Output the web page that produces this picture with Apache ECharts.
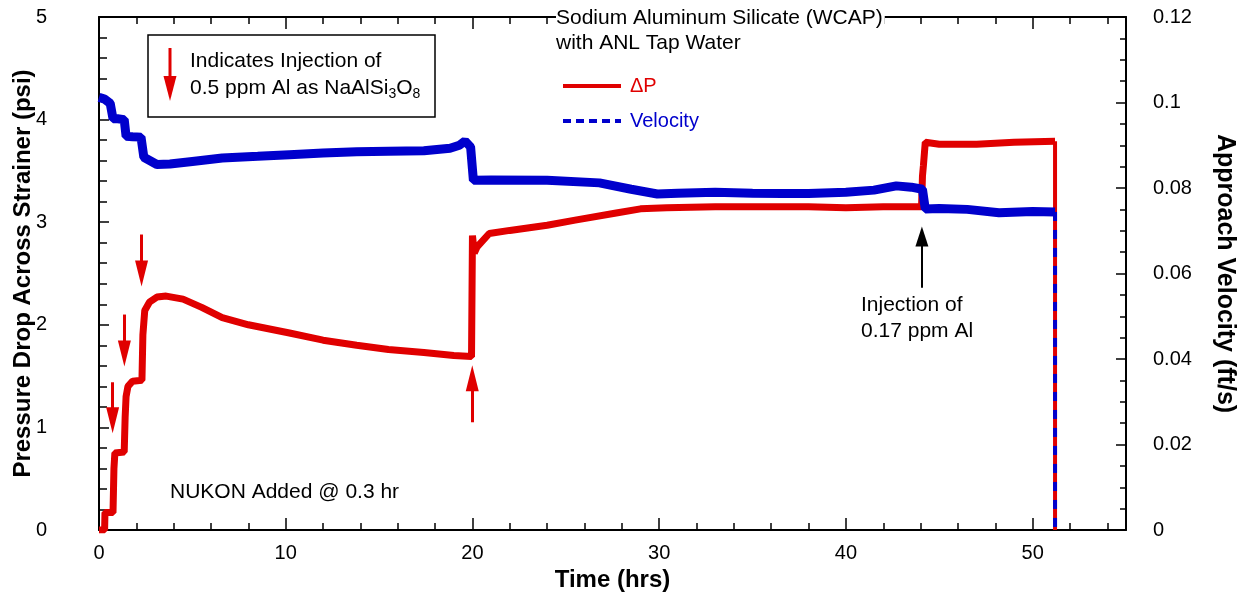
<!DOCTYPE html>
<html>
<head>
<meta charset="utf-8">
<script src="https://cdn.jsdelivr.net/npm/echarts@6/dist/echarts.min.js"></script>
<style>
html,body{margin:0;padding:0;background:#fff;}
#chart{width:1244px;height:598px;}
</style>
</head>
<body>
<div id="chart"></div>
<script>
// ---- data ----
// Pressure drop (psi) vs time (hrs)
const dpData = [
  [0,0],[0.3,0],[0.32,0.17],[0.75,0.17],[0.8,0.6],[0.85,0.75],[1.35,0.76],[1.4,1.1],[1.45,1.3],
  [1.55,1.40],[1.8,1.45],[2.3,1.46],[2.35,1.9],[2.45,2.14],[2.7,2.22],[3.1,2.27],[3.6,2.28],
  [4.5,2.25],[5.5,2.17],[6.6,2.07],[8,2.0],[10.2,1.92],[12,1.85],[13.8,1.80],[15.5,1.76],
  [17.4,1.73],[19,1.70],[19.95,1.69],[20.0,2.87],[20.1,2.70],[20.25,2.76],[20.9,2.89],
  [22,2.92],[24,2.97],[25.5,3.02],[27.7,3.09],[29,3.13],[30.4,3.14],[33,3.15],[35,3.15],
  [38,3.15],[40,3.14],[42,3.15],[44.05,3.15],[44.1,3.45],[44.15,3.55],[44.25,3.78],
  [45,3.76],[47,3.76],[49,3.78],[51.2,3.79]
];
const dpDrop = [[51.2,3.79],[51.2,0]];
// Approach velocity (ft/s) vs time (hrs)
const velData = [
  [0,0.1012],[0.3,0.1008],[0.6,0.0998],[0.75,0.0962],[1.0,0.0962],[1.35,0.0960],[1.45,0.0921],
  [1.8,0.0920],[2.25,0.0919],[2.4,0.0872],[3.1,0.0855],[3.8,0.0856],[5,0.0862],[6.6,0.0870],
  [8.5,0.0874],[10.2,0.0878],[12,0.0882],[13.8,0.0885],[15.5,0.0886],[17.4,0.0887],[18.8,0.0893],
  [19.3,0.0900],[19.6,0.0910],[19.9,0.0896],[20.05,0.0818],[21,0.0819],[24,0.0818],[26.8,0.0812],
  [28.5,0.0797],[29.9,0.0786],[31,0.0788],[33,0.0790],[35,0.0788],[36.6,0.0787],[38,0.0787],
  [40,0.0790],[41.5,0.0795],[42.7,0.0805],[43.5,0.0802],[44.1,0.0797],[44.25,0.0751],[45,0.0752],
  [46.5,0.0750],[48.2,0.0742],[50,0.0745],[51.2,0.0744]
];
const velDrop = [[51.2,0.0744],[51.2,0]];
// injection arrows: [time, tail psi, head-centre psi]
const redDownArrows = [[0.73,1.44,1.07],[1.36,2.10,1.72],[2.28,2.88,2.50]];
const redUpArrows = [[19.99,1.05,1.48]];
const blackUpArrows = [[44.07,2.36,2.86]];
// axis ticks
const xTicks = {min:0, max:55, interval:10, minorSplit:5};
const yLeftTicks = {min:0, max:5, interval:1, minorSplit:5};
const yRightTicks = {min:0, max:0.12, interval:0.02, minorSplit:4};

const RED = '#e00000', BLUE = '#0000cc';
const FONT = '"Liberation Sans", Arial, sans-serif';

const shafts = redDownArrows.concat(redUpArrows).map(a => [{coord:[a[0],a[1]]},{coord:[a[0],a[2]]}]);
const blackShafts = blackUpArrows.map(a => [{coord:[a[0],a[1]]},{coord:[a[0],a[2]]}]);
const headData = []
  .concat(redDownArrows.map(a => ({value:[a[0],a[2]], symbolRotate:180})))
  .concat(redUpArrows.map(a => ({value:[a[0],a[2]], symbolRotate:0})));
const blackHeadData = blackUpArrows.map(a => ({value:[a[0],a[2]], symbolRotate:0}));

const axisLine = {show:true, onZero:false, lineStyle:{color:'#000', width:2}};
const tickStyle = {color:'#000', width:1.5};
const chart = echarts.init(document.getElementById('chart'), null, {renderer:'canvas'});
chart.setOption({
  animation:false,
  backgroundColor:'#fff',
  grid:{left:99, right:118, top:17, bottom:68, show:false, containLabel:false, outerBoundsMode:'none'},
  legend:{
    orient:'vertical', left:556, top:71, itemWidth:58, itemHeight:14, itemGap:15,
    selectedMode:false,
    textStyle:{fontSize:20, fontFamily:FONT, padding:[0,0,0,4]},
    data:[
      {name:'ΔP', textStyle:{color:RED}, lineStyle:{width:4, color:RED}, itemStyle:{opacity:0}},
      {name:'Velocity', textStyle:{color:BLUE}, lineStyle:{width:4, color:BLUE, type:[8,5]}, itemStyle:{opacity:0}}
    ]
  },
  xAxis:[
    {type:'value', position:'bottom', offset:0, min:xTicks.min, max:xTicks.max, interval:xTicks.interval,
     name:'Time (hrs)', nameLocation:'middle', nameGap:38, nameMoveOverlap:false,
     nameTextStyle:{fontSize:24, fontWeight:'bold', fontFamily:FONT, color:'#000'},
     axisLine:axisLine, axisTick:{inside:false, length:-12, lineStyle:tickStyle},
     minorTick:{show:true, splitNumber:xTicks.minorSplit, length:-7, lineStyle:tickStyle},
     axisLabel:{fontSize:20, fontFamily:FONT, color:'#000', margin:13, showMaxLabel:false},
     splitLine:{show:false}},
    {type:'value', position:'top', offset:0, min:xTicks.min, max:xTicks.max, interval:xTicks.interval,
     axisLine:axisLine, axisTick:{inside:false, length:-12, lineStyle:tickStyle},
     minorTick:{show:true, splitNumber:xTicks.minorSplit, length:-7, lineStyle:tickStyle},
     axisLabel:{show:false}, splitLine:{show:false}}
  ],
  yAxis:[
    {type:'value', position:'left', offset:0, min:yLeftTicks.min, max:yLeftTicks.max, interval:yLeftTicks.interval,
     name:'Pressure Drop Across Strainer (psi)', nameLocation:'middle', nameGap:64, nameRotate:90,
     nameMoveOverlap:false,
     nameTextStyle:{fontSize:24, fontWeight:'bold', fontFamily:FONT, color:'#000'},
     axisLine:axisLine, axisTick:{inside:false, length:-10, lineStyle:tickStyle},
     minorTick:{show:true, splitNumber:yLeftTicks.minorSplit, length:-8, lineStyle:tickStyle},
     axisLabel:{fontSize:20, fontFamily:FONT, color:'#000', margin:52},
     splitLine:{show:false}},
    {type:'value', position:'right', offset:0, min:yRightTicks.min, max:yRightTicks.max, interval:yRightTicks.interval,
     name:'Approach Velocity (ft/s)', nameLocation:'middle', nameGap:86, nameRotate:-90,
     nameMoveOverlap:false,
     nameTextStyle:{fontSize:25, fontWeight:'bold', fontFamily:FONT, color:'#000'},
     axisLine:axisLine, axisTick:{inside:false, length:-10, lineStyle:tickStyle},
     minorTick:{show:true, splitNumber:yRightTicks.minorSplit, length:-6, lineStyle:tickStyle},
     axisLabel:{fontSize:20, fontFamily:FONT, color:'#000', margin:27},
     splitLine:{show:false}}
  ],
  series:[
    {name:'ΔP', type:'line', xAxisIndex:0, yAxisIndex:0, data:dpData, symbol:'none',
     lineStyle:{color:RED, width:7}, itemStyle:{color:RED}, z:3,
     markLine:{silent:true, symbol:['none','none'], label:{show:false},
       lineStyle:{color:RED, width:3, type:'solid'}, data:shafts}},
    {name:'ΔP end', type:'line', xAxisIndex:0, yAxisIndex:0, data:dpDrop, symbol:'none',
     lineStyle:{color:RED, width:4}, z:3},
    {name:'arrowsRed', type:'scatter', xAxisIndex:0, yAxisIndex:0, symbol:'triangle',
     symbolSize:[13,26], data:headData, itemStyle:{color:RED, opacity:1}, silent:true, z:5},
    {name:'arrowsBlack', type:'scatter', xAxisIndex:0, yAxisIndex:0, symbol:'triangle',
     symbolSize:[13,20], data:blackHeadData, itemStyle:{color:'#000', opacity:1}, silent:true, z:5,
     markLine:{silent:true, symbol:['none','none'], label:{show:false},
       lineStyle:{color:'#000', width:2, type:'solid'}, data:blackShafts}},
    {name:'Velocity', type:'line', xAxisIndex:0, yAxisIndex:1, data:velData, symbol:'none',
     lineStyle:{color:BLUE, width:9}, itemStyle:{color:BLUE}, z:4},
    {name:'Velocity end', type:'line', xAxisIndex:0, yAxisIndex:1, data:velDrop, symbol:'none',
     lineStyle:{color:BLUE, width:4, type:[9,9]}, z:4}
  ],
  graphic:[
    {type:'text', x:556, y:18, z:100, style:{text:'Sodium Aluminum Silicate (WCAP)', fill:'#000',
      font:'21px '+FONT, verticalAlign:'middle', backgroundColor:'#fff', padding:[1,2,1,0]}},
    {type:'text', x:556, y:43, z:100, style:{text:'with ANL Tap Water', fill:'#000',
      font:'21px '+FONT, verticalAlign:'middle'}},
    {type:'rect', z:100, shape:{x:148, y:35, width:287, height:82}, style:{fill:'#fff', stroke:'#000', lineWidth:1.5}},
    {type:'line', z:101, shape:{x1:170, y1:48, x2:170, y2:80}, style:{stroke:RED, lineWidth:3}},
    {type:'polygon', z:101, shape:{points:[[163.5,76],[176.5,76],[170,101]]}, style:{fill:RED}},
    {type:'text', x:190, y:61, z:101, style:{text:'Indicates Injection of', fill:'#000',
      font:'21px '+FONT, verticalAlign:'middle'}},
    {type:'text', x:190, y:75, z:101, style:{text:'0.5 ppm Al as NaAlSi{sub|3}O{sub|8}', fill:'#000',
      font:'21px '+FONT, verticalAlign:'top',
      rich:{sub:{fontSize:14, fontFamily:FONT, fill:'#000', padding:[12,0,0,0]}}}},
    {type:'text', x:861, y:305, z:100, style:{text:'Injection of', fill:'#000',
      font:'21px '+FONT, verticalAlign:'middle'}},
    {type:'text', x:861, y:331, z:100, style:{text:'0.17 ppm Al', fill:'#000',
      font:'21px '+FONT, verticalAlign:'middle'}},
    {type:'text', x:170, y:492, z:100, style:{text:'NUKON Added @ 0.3 hr', fill:'#000',
      font:'21px '+FONT, verticalAlign:'middle'}}
  ]
});
</script>
</body>
</html>
